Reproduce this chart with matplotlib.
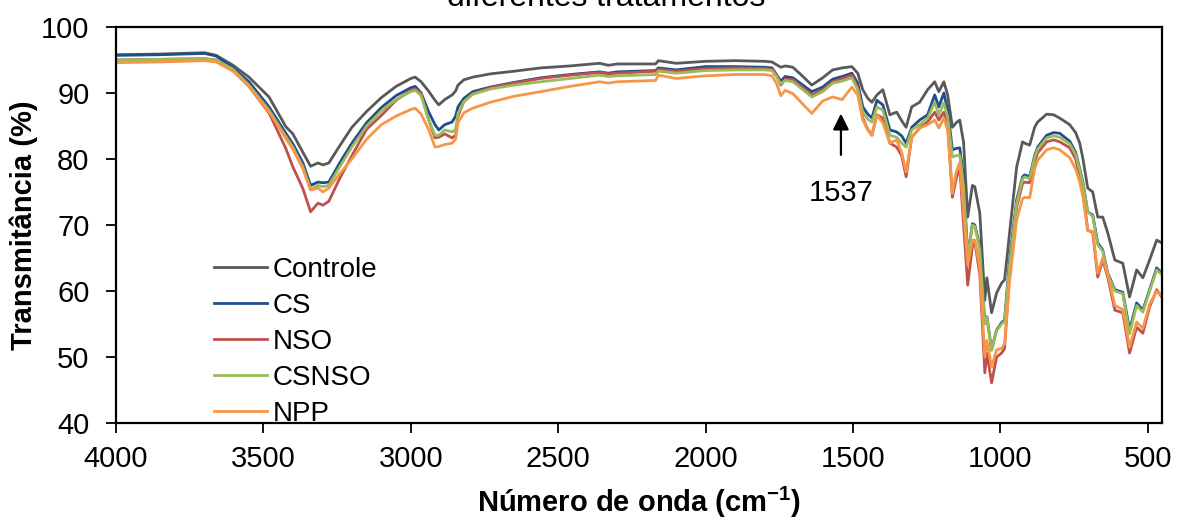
import matplotlib
matplotlib.use("Agg")
import matplotlib.pyplot as plt

plt.rcParams['font.family'] = ['Liberation Sans', 'DejaVu Sans']

wavenumber = [4000, 3850, 3700, 3660, 3603, 3549, 3481, 3424, 3400, 3366, 3340, 3315, 3298, 3278,
              3244, 3200, 3150, 3100, 3050, 3000, 2985, 2965, 2940, 2918, 2905, 2885, 2860, 2848,
              2840, 2820, 2790, 2730, 2650, 2560, 2460, 2360, 2330, 2300, 2170, 2160, 2100, 2000,
              1900, 1800, 1775, 1760, 1745, 1730, 1704, 1670, 1640, 1603, 1569, 1537, 1504, 1484,
              1467, 1450, 1436, 1419, 1399, 1375, 1352, 1335, 1320, 1301, 1274, 1247, 1223, 1209,
              1192, 1179, 1163, 1150, 1138, 1125, 1111, 1095, 1087, 1070, 1053, 1046, 1030, 1013,
              996, 986, 969, 945, 925, 918, 901, 884, 874, 843, 820, 799, 765, 745, 731, 720, 704,
              687, 670, 653, 636, 612, 585, 562, 538, 517, 494, 470, 453]

controle = [95.8, 95.9, 96.1, 95.7, 94.2, 92.4, 89.4, 84.9, 83.8, 81.0, 78.9, 79.4, 79.1, 79.4,
            81.8, 84.8, 87.2, 89.3, 91.0, 92.2, 92.4, 91.7, 90.3, 88.9, 88.2, 89.0, 89.7, 90.3,
            91.2, 92.0, 92.4, 92.9, 93.3, 93.8, 94.1, 94.5, 94.2, 94.4, 94.4, 94.9, 94.5, 94.8,
            94.9, 94.8, 94.7, 94.3, 93.9, 94.1, 93.9, 92.5, 91.2, 92.3, 93.5, 93.8, 94.0, 93.0,
            90.5, 89.2, 88.6, 89.7, 90.5, 86.7, 87.1, 85.8, 84.8, 87.9, 88.6, 90.5, 91.7, 90.2,
            91.7, 89.7, 84.8, 85.5, 85.9, 82.5, 71.2, 76.0, 75.8, 71.8, 58.6, 62.0, 56.7, 59.7,
            61.2, 61.7, 68.8, 78.8, 82.6, 82.4, 82.1, 84.8, 85.6, 86.8, 86.7, 86.2, 85.2, 84.0,
            82.4, 80.0, 75.6, 75.0, 71.2, 71.2, 68.8, 64.7, 64.2, 59.1, 63.2, 62.0, 64.7, 67.7, 67.3]

cs = [95.7, 95.8, 96.0, 95.6, 93.8, 91.7, 87.9, 83.9, 82.3, 79.4, 76.0, 76.5, 76.4, 76.5,
      79.2, 82.4, 85.5, 87.8, 89.6, 90.8, 91.0, 90.0, 87.2, 85.2, 84.4, 85.2, 85.6, 86.5,
      87.9, 89.2, 90.2, 90.9, 91.6, 92.3, 92.8, 93.2, 93.0, 93.2, 93.4, 93.8, 93.5, 94.0,
      94.0, 93.9, 93.8, 92.8, 91.8, 92.5, 92.3, 91.2, 90.2, 90.9, 92.1, 92.5, 93.0, 91.5,
      87.9, 86.8, 86.2, 88.9, 88.2, 84.4, 84.1, 83.5, 82.4, 84.8, 85.9, 86.7, 89.7, 87.9,
      90.0, 87.4, 81.4, 81.6, 81.7, 77.0, 65.2, 70.2, 70.0, 66.7, 55.2, 56.1, 51.1, 54.1,
      55.2, 55.6, 64.7, 73.8, 77.3, 77.6, 77.3, 80.5, 81.8, 83.6, 84.0, 83.9, 82.7, 81.0,
      78.5, 76.4, 72.0, 71.5, 67.3, 66.2, 62.7, 60.2, 59.8, 54.1, 58.2, 57.1, 60.2, 63.5, 62.7]

nso = [95.0, 95.1, 95.2, 95.0, 93.5, 91.0, 87.0, 81.6, 78.8, 75.5, 72.0, 73.3, 73.0, 73.6,
       76.8, 80.5, 84.5, 86.6, 88.9, 90.4, 90.6, 89.9, 86.0, 83.2, 83.3, 83.8, 83.2, 83.6,
       86.5, 88.7, 89.9, 90.8, 91.5, 92.2, 92.7, 93.1, 92.9, 93.0, 93.3, 93.6, 93.3, 93.7,
       93.8, 93.7, 93.6, 92.8, 91.2, 92.1, 92.0, 90.8, 89.7, 90.5, 91.7, 92.2, 92.7, 90.9,
       86.2, 84.5, 83.6, 86.7, 86.2, 82.4, 81.8, 80.5, 77.3, 83.3, 84.7, 85.6, 87.1, 85.9,
       87.1, 85.2, 74.2, 77.0, 78.8, 70.0, 60.9, 66.8, 67.4, 62.5, 47.6, 50.6, 46.1, 50.0,
       50.6, 51.3, 62.7, 72.7, 76.3, 76.5, 76.4, 79.5, 80.9, 82.6, 82.9, 82.6, 81.7, 80.0,
       77.5, 75.3, 69.2, 68.9, 62.1, 64.7, 62.1, 57.1, 56.7, 50.6, 54.5, 53.6, 57.6, 60.2, 59.1]

csnso = [95.0, 95.1, 95.2, 95.0, 93.6, 91.2, 87.4, 83.4, 81.8, 78.8, 75.4, 76.0, 75.8, 76.0,
         78.6, 81.8, 85.0, 87.3, 89.0, 90.2, 90.4, 89.6, 86.0, 83.6, 83.6, 84.4, 84.1, 84.5,
         86.9, 88.7, 89.8, 90.6, 91.2, 91.7, 92.2, 92.7, 92.5, 92.6, 92.8, 93.3, 93.0, 93.4,
         93.5, 93.5, 93.4, 92.5, 91.4, 91.9, 91.7, 90.5, 89.4, 90.2, 91.5, 91.8, 92.3, 90.5,
         87.1, 86.0, 85.6, 87.9, 87.4, 83.6, 83.3, 82.4, 81.8, 84.4, 85.2, 86.2, 88.6, 86.7,
         88.5, 86.4, 80.3, 80.5, 80.6, 76.0, 65.0, 70.0, 69.8, 66.3, 55.0, 56.0, 51.0, 54.0,
         55.0, 55.4, 64.0, 73.3, 77.0, 77.3, 77.0, 80.2, 81.5, 83.2, 83.5, 83.3, 82.3, 80.7,
         78.3, 76.2, 72.0, 71.3, 67.0, 66.0, 62.5, 60.0, 59.6, 53.5, 57.8, 56.8, 60.0, 63.2, 62.5]

npp = [94.6, 94.7, 94.9, 94.7, 93.3, 91.0, 87.2, 83.1, 81.5, 78.5, 75.3, 75.6, 75.0, 75.6,
       77.6, 80.0, 83.0, 85.2, 86.5, 87.5, 87.7, 86.8, 84.5, 81.8, 81.9, 82.2, 82.4, 83.0,
       85.5, 87.0, 87.7, 88.6, 89.5, 90.2, 91.0, 91.7, 91.5, 91.7, 91.9, 92.7, 92.2, 92.6,
       92.8, 92.8, 92.6, 91.5, 89.6, 90.4, 89.9, 88.3, 86.9, 88.8, 89.4, 89.0, 90.9, 89.7,
       85.9, 84.4, 83.6, 86.7, 85.5, 82.4, 82.9, 81.0, 78.0, 83.3, 84.7, 85.2, 85.9, 84.7,
       86.2, 84.4, 74.8, 78.0, 79.5, 72.0, 63.9, 67.7, 67.7, 63.5, 50.0, 52.5, 48.5, 51.1,
       51.3, 52.0, 61.5, 70.8, 74.0, 74.2, 74.1, 78.5, 79.8, 81.4, 81.7, 81.4, 80.2, 78.5,
       76.5, 74.2, 69.2, 69.0, 62.7, 65.0, 62.5, 57.8, 57.2, 51.5, 55.3, 54.3, 58.0, 60.0, 59.3]

series_names = ['Controle', 'CS', 'NSO', 'CSNSO', 'NPP']
series_values = [controle, cs, nso, csnso, npp]
series_colors = ['#595959', '#1f4e8c', '#c0504d', '#9bbb59', '#f79646']

x_ticks = [4000, 3500, 3000, 2500, 2000, 1500, 1000, 500]
y_ticks = [40, 50, 60, 70, 80, 90, 100]

fig = plt.figure(figsize=(11.77, 5.21), dpi=100)
ax = fig.add_axes([116/1177, 1 - 423/521, (1162 - 116)/1177, (423 - 27)/521])

for name, vals, col in zip(series_names, series_values, series_colors):
    ax.plot(wavenumber, vals, color=col, lw=2.0, label=name, solid_joinstyle='round')

ax.set_xlim(4000, 452)
ax.set_ylim(40, 100)
ax.set_xticks(x_ticks)
ax.set_yticks(y_ticks)
ax.tick_params(axis='both', labelsize=21, direction='out', length=7, width=1.3)
ax.tick_params(axis='x', pad=9)
ax.tick_params(axis='y', pad=12)
for s in ax.spines.values():
    s.set_linewidth(1.6)
    s.set_color('black')

ax.set_xlabel('Número de onda (cm$^{\\mathregular{-1}}$)', fontsize=21, fontweight='bold', labelpad=8)
ax.set_ylabel('Transmitância (%)', fontsize=21, fontweight='bold', labelpad=2)

ax.annotate('', xy=(1541, 87.3), xytext=(1541, 80.2),
            arrowprops=dict(arrowstyle='-|>', lw=1.6, color='black', mutation_scale=24))
ax.text(1541, 74.8, '1537', ha='center', va='center', fontsize=21)

leg = ax.legend(loc='upper left', bbox_to_anchor=(214/1177, 1 - 257/521),
                bbox_transform=fig.transFigure, frameon=False, fontsize=20,
                handlelength=1.9, handletextpad=0.22, labelspacing=0.36, borderpad=0, borderaxespad=0)

fig.text(606/1177, 1 - 6/521, 'diferentes tratamentos', ha='center', va='baseline', fontsize=23)

fig.savefig('out.png', dpi=100)
